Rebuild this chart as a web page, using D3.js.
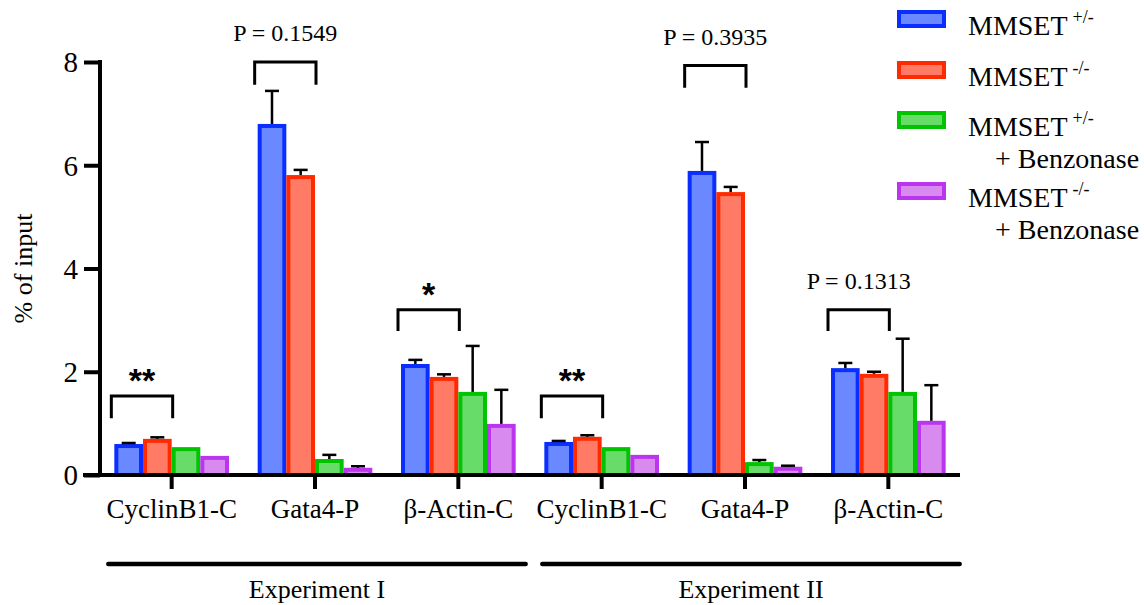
<!DOCTYPE html>
<html>
<head>
<meta charset="utf-8">
<script src="https://cdn.jsdelivr.net/npm/d3@7"></script>
<style>
  body { margin: 0; background: #fff; }
  svg { display: block; }
  text { font-family: "Liberation Serif", "Times New Roman", serif; fill: #000; }
</style>
</head>
<body>
<div id="chart"></div>
<script>
// targets (x axis) and the two experiments
const categories = ["CyclinB1-C", "Gata4-P", "β-Actin-C", "CyclinB1-C", "Gata4-P", "β-Actin-C"];
const experiments = ["Experiment I", "Experiment II"];
const seriesNames = ["het", "ko", "hetBenz", "koBenz"];

// % of input, mean and upper error per series
const hetMean     = [0.60, 6.80, 2.15, 0.64, 5.89, 2.07];
const hetErr      = [0.02, 0.64, 0.08, 0.02, 0.56, 0.10];
const koMean      = [0.70, 5.81, 1.90, 0.74, 5.48, 1.96];
const koErr       = [0.03, 0.10, 0.05, 0.03, 0.10, 0.04];
const hetBenzMean = [0.54, 0.31, 1.61, 0.54, 0.25, 1.61];
const hetBenzErr  = [0.00, 0.08, 0.89, 0.00, 0.04, 1.03];
const koBenzMean  = [0.37, 0.14, 0.99, 0.39, 0.16, 1.05];
const koBenzErr   = [0.00, 0.03, 0.66, 0.00, 0.02, 0.69];

const yTicks = [0, 2, 4, 6, 8];

// significance brackets: category index, bracket top, leg bottom, label
const bracketGroup = [0, 1, 2, 3, 4, 5];
const bracketTop   = [1.53, 8.00, 3.20, 1.53, 7.93, 3.20];
const bracketLow   = [1.10, 7.56, 2.79, 1.10, 7.50, 2.79];
const bracketText  = ["**", "P = 0.1549", "*", "**", "P = 0.3935", "P = 0.1313"];

const strokeColors = ["#0a2eff", "#ff2a00", "#00c400", "#bb35ee"];
const fillColors   = ["#6a88ff", "#ff7b66", "#68dc68", "#d98aef"];

const width = 1144, height = 605;
const margin = { left: 100, right: 184, top: 62, bottom: 130 };

const svg = d3.select("#chart").append("svg")
  .attr("width", width)
  .attr("height", height);

const x = d3.scaleBand()
  .domain(d3.range(categories.length))
  .range([margin.left, width - margin.right])
  .paddingInner(0.2)
  .paddingOuter(0.1);

const xs = d3.scaleBand()
  .domain(seriesNames)
  .range([0, x.bandwidth()]);

const y = d3.scaleLinear()
  .domain([0, 8])
  .range([height - margin.bottom, margin.top]);

const means = [hetMean, koMean, hetBenzMean, koBenzMean];
const errs = [hetErr, koErr, hetBenzErr, koBenzErr];

const rows = [];
categories.forEach((c, i) => {
  seriesNames.forEach((s, j) => {
    rows.push({ cat: i, series: s, j: j, v: means[j][i], e: errs[j][i] });
  });
});

// bars
const sw = 4;
svg.append("g").selectAll("rect")
  .data(rows)
  .enter()
  .append("rect")
  .attr("x", d => x(d.cat) + xs(d.series) + sw / 2)
  .attr("y", d => y(d.v) + sw / 2)
  .attr("width", xs.bandwidth() - sw)
  .attr("height", d => Math.max(0, y(0) - y(d.v) - sw / 2))
  .attr("fill", d => fillColors[d.j])
  .attr("stroke", d => strokeColors[d.j])
  .attr("stroke-width", sw);

// error bars (upper only)
const eb = svg.append("g").attr("stroke", "#000").attr("stroke-width", 2.5);
rows.filter(d => d.e > 0).forEach(d => {
  const cx = x(d.cat) + xs(d.series) + xs.bandwidth() / 2;
  eb.append("line")
    .attr("x1", cx).attr("x2", cx)
    .attr("y1", y(d.v)).attr("y2", y(d.v + d.e));
  eb.append("line")
    .attr("x1", cx - 7).attr("x2", cx + 7)
    .attr("y1", y(d.v + d.e)).attr("y2", y(d.v + d.e));
});

// y axis
const yAxis = svg.append("g")
  .attr("transform", `translate(${margin.left},0)`)
  .call(d3.axisLeft(y).tickValues(yTicks).tickSize(16).tickPadding(6));
yAxis.select(".domain").attr("stroke-width", 4).attr("d", `M0,${y(8) - 2}V${y(0) + 2}`);
yAxis.selectAll(".tick line").attr("stroke-width", 4);
yAxis.selectAll(".tick text")
  .style("font-family", '"Liberation Serif", serif')
  .style("font-size", "29px")
  .attr("dy", "0.34em");

// x axis
const xAxis = svg.append("g")
  .attr("transform", `translate(0,${y(0)})`)
  .call(d3.axisBottom(x).tickFormat(i => categories[i]).tickSize(14).tickPadding(10));
xAxis.select(".domain").attr("stroke-width", 4).attr("d", `M${margin.left - 17},0H${width - margin.right}`);
xAxis.selectAll(".tick line").attr("stroke-width", 4);
xAxis.selectAll(".tick text")
  .style("font-family", '"Liberation Serif", serif')
  .style("font-size", "27px");

// y title
svg.append("text")
  .attr("transform", `translate(32,${(y(0) + y(8)) / 2}) rotate(-90)`)
  .attr("text-anchor", "middle")
  .style("font-size", "26px")
  .text("% of input");

// experiment underlines and labels
experiments.forEach((name, k) => {
  const x0 = x(k * 3) - (k === 0 ? 6 : 2);
  const x1 = x(k * 3 + 2) + x.bandwidth() + (k === 0 ? 10 : 14);
  svg.append("line")
    .attr("x1", x0).attr("x2", x1)
    .attr("y1", 564).attr("y2", 564)
    .attr("stroke", "#000").attr("stroke-width", 4.5)
    .attr("stroke-linecap", "round");
  svg.append("text")
    .attr("x", (x0 + x1) / 2)
    .attr("y", 598)
    .attr("text-anchor", "middle")
    .style("font-size", "26px")
    .text(name);
});

// significance brackets
bracketGroup.forEach((g, k) => {
  const bx0 = x(g) - 3;
  const bx1 = x(g) + x.bandwidth() / 2 + 1;
  svg.append("path")
    .attr("d", `M${bx0},${y(bracketLow[k])}V${y(bracketTop[k])}H${bx1}V${y(bracketLow[k])}`)
    .attr("fill", "none")
    .attr("stroke", "#000")
    .attr("stroke-width", 3);
  const star = bracketText[k].startsWith("*");
  svg.append("text")
    .attr("x", (bx0 + bx1) / 2)
    .attr("y", y(bracketTop[k]) - (star ? 4 : 21))
    .attr("text-anchor", "middle")
    .style("font-size", star ? "34px" : "24px")
    .style("font-weight", star ? "bold" : "normal")
    .style("font-family", star ? '"Liberation Sans", Arial, sans-serif' : null)
    .text(bracketText[k]);
});

// legend
const legendSup = ["+/-", "-/-", "+/-", "-/-"];
const legendSecond = ["", "", "+ Benzonase", "+ Benzonase"];
const legendTop = [10, 61, 111, 182];
const lg = svg.append("g");
seriesNames.forEach((s, j) => {
  lg.append("rect")
    .attr("x", 897 + sw / 2)
    .attr("y", legendTop[j] + sw / 2)
    .attr("width", 49 - sw)
    .attr("height", 18 - sw)
    .attr("fill", fillColors[j])
    .attr("stroke", strokeColors[j])
    .attr("stroke-width", sw);
  const t = lg.append("text")
    .attr("x", 968)
    .attr("y", legendTop[j] + 25)
    .style("font-size", "28px");
  t.append("tspan").text("MMSET");
  t.append("tspan")
    .attr("dx", 5)
    .attr("dy", -12)
    .style("font-size", "18px")
    .text(legendSup[j]);
  if (legendSecond[j]) {
    lg.append("text")
      .attr("x", 995)
      .attr("y", legendTop[j] + 57)
      .style("font-size", "28px")
      .text(legendSecond[j]);
  }
});
</script>
</body>
</html>
